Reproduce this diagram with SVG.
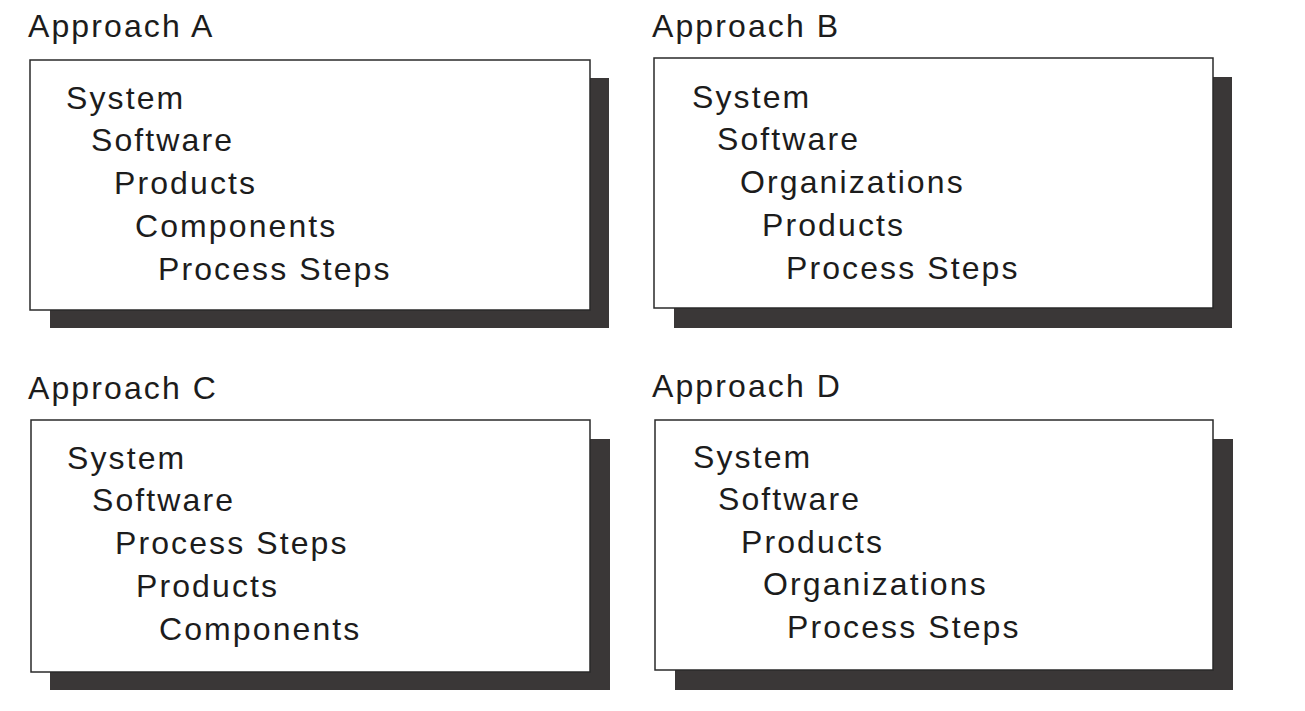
<svg xmlns="http://www.w3.org/2000/svg" width="1305" height="711" viewBox="0 0 1305 711">
<style>
.bg{fill:#ffffff}
.shadow{fill:#3a3737}
.box{fill:#ffffff;stroke:#2a2a2a;stroke-width:1.5}
text{font-family:"Liberation Sans",Arial,sans-serif;font-size:32px;letter-spacing:2.1px;fill:#1c1c1c}
</style>
<rect class="bg" x="0" y="0" width="1305" height="711"/>
<g id="approachA">
<text x="28" y="37">Approach A</text>
<rect class="shadow" x="50" y="78" width="559" height="250"/>
<rect class="box" x="30" y="60" width="560" height="250"/>
<text x="66" y="109">System</text>
<text x="91" y="151">Software</text>
<text x="114" y="194">Products</text>
<text x="135" y="237">Components</text>
<text x="158" y="280">Process Steps</text>
</g>
<g id="approachB">
<text x="652" y="37">Approach B</text>
<rect class="shadow" x="674" y="77" width="558" height="251"/>
<rect class="box" x="654" y="58" width="559" height="250"/>
<text x="692" y="108">System</text>
<text x="717" y="150">Software</text>
<text x="740" y="193">Organizations</text>
<text x="762" y="236">Products</text>
<text x="786" y="279">Process Steps</text>
</g>
<g id="approachC">
<text x="28" y="399">Approach C</text>
<rect class="shadow" x="50" y="439" width="560" height="251"/>
<rect class="box" x="31" y="420" width="559" height="252"/>
<text x="67" y="469">System</text>
<text x="92" y="511">Software</text>
<text x="115" y="554">Process Steps</text>
<text x="136" y="597">Products</text>
<text x="159" y="640">Components</text>
</g>
<g id="approachD">
<text x="652" y="397">Approach D</text>
<rect class="shadow" x="675" y="439" width="558" height="251"/>
<rect class="box" x="655" y="420" width="558" height="250"/>
<text x="693" y="468">System</text>
<text x="718" y="510">Software</text>
<text x="741" y="553">Products</text>
<text x="763" y="595">Organizations</text>
<text x="787" y="638">Process Steps</text>
</g>
<g id="connectors"/>
</svg>
